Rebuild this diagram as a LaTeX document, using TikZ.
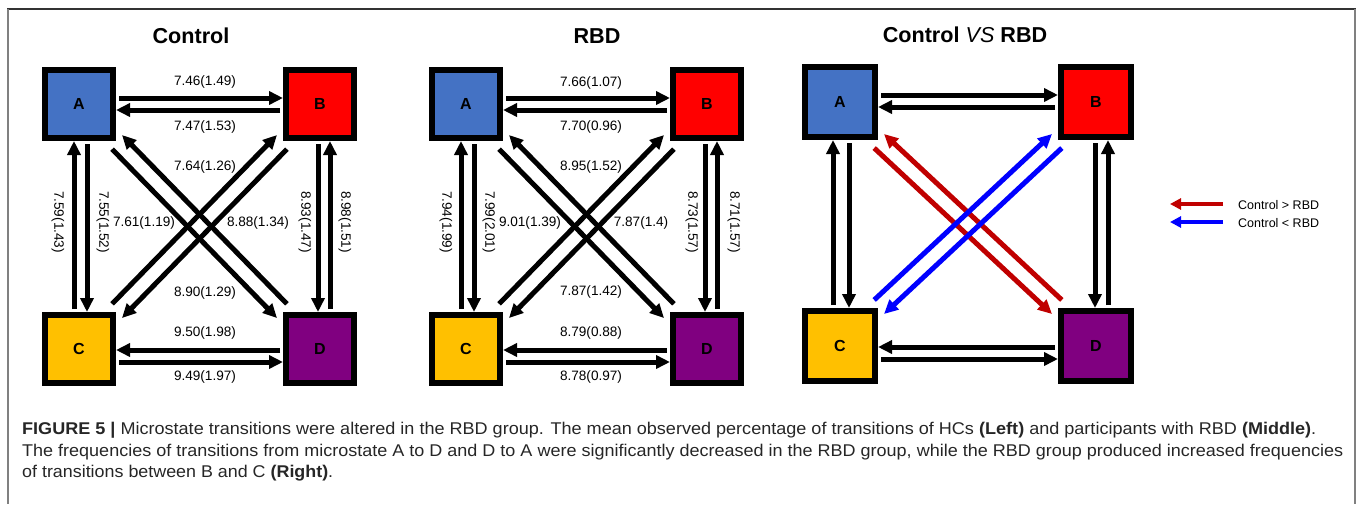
\documentclass[tikz,border=0pt]{standalone}
\usepackage{fontspec}
\setmainfont{Liberation Sans}
\usepackage{graphicx}
\usetikzlibrary{arrows.meta}
\definecolor{stateA}{HTML}{4472C4}
\definecolor{stateB}{HTML}{FF0000}
\definecolor{stateC}{HTML}{FFC000}
\definecolor{stateD}{HTML}{800080}
\definecolor{lessred}{HTML}{C00000}
\definecolor{moreblue}{HTML}{0000FF}
\tikzstyle{statebox}=[rectangle, draw=black, line width=6pt,
                      minimum size=68pt, inner sep=0pt,
                      font=\fontsize{16}{16}\selectfont\bfseries]
\tikzstyle{transarrow}=[line width=5pt, -{Triangle[length=14pt,width=13pt]},
                        shorten <=3pt]

\begin{document}
\begin{tikzpicture}[x=1pt,y=-1pt]
  \tikzstyle{problabel}=[font=\fontsize{13.6}{14}\selectfont, inner sep=0pt]
  \tikzstyle{paneltitle}=[font=\fontsize{21.6}{22}\selectfont\bfseries, anchor=base]
  \tikzstyle{captionline}=[font=\fontsize{17}{21}\selectfont, text=black!85, anchor=base west, inner sep=0pt]
  \useasboundingbox (0,0) rectangle (1357,504);
  % frame
  \draw[black!80, line width=1.5pt] (7,9) -- (1356,9);
  \draw[black!50, line width=1.5pt] (8,9) -- (8,504);
  \draw[black!50, line width=1.5pt] (1355,9) -- (1355,504);
  % Control
  \node[paneltitle] (ctitle) at (191,43) {Control};
  \node[statebox, fill=stateA] (cA) at (79,104) {A};
  \node[statebox, fill=stateB] (cB) at (320,104) {B};
  \node[statebox, fill=stateC] (cC) at (79,349) {C};
  \node[statebox, fill=stateD] (cD) at (320,349) {D};
  \draw[transarrow] ([yshift=6pt]cA.east) -- ([yshift=6pt]cB.west);
  \draw[transarrow] ([yshift=-6pt]cB.west) -- ([yshift=-6pt]cA.east);
  \draw[transarrow] ([xshift=-5pt]cC.north) -- ([xshift=-5pt]cA.south);
  \draw[transarrow] ([xshift=8pt]cA.south) -- ([xshift=8pt]cC.north);
  \draw[transarrow] ([xshift=-2pt]cB.south) -- ([xshift=-2pt]cD.north);
  \draw[transarrow] ([xshift=10pt]cD.north) -- ([xshift=10pt]cB.south);
  \draw[transarrow] ([yshift=-1pt]cD.west) -- ([yshift=-1pt]cC.east);
  \draw[transarrow] ([yshift=-13pt]cC.east) -- ([yshift=-13pt]cD.west);
  \draw[transarrow] ([xshift=-6pt,yshift=-6pt]cA.south east) -- ([xshift=-6pt,yshift=-6pt]cD.north west);
  \draw[transarrow] ([xshift=6pt,yshift=6pt]cD.north west) -- ([xshift=6pt,yshift=6pt]cA.south east);
  \draw[transarrow] ([xshift=-6pt,yshift=6pt]cC.north east) -- ([xshift=-6pt,yshift=6pt]cB.south west);
  \draw[transarrow] ([xshift=6pt,yshift=-6pt]cB.south west) -- ([xshift=6pt,yshift=-6pt]cC.north east);
  \node[problabel] (cablabel) at (205,82) {7.46(1.49)};
  \node[problabel] (cbalabel) at (205,127) {7.47(1.53)};
  \node[problabel] (ccblabel) at (205,167) {7.64(1.26)};
  \node[problabel] (cdalabel) at (144,223) {7.61(1.19)};
  \node[problabel] (cadlabel) at (258,223) {8.88(1.34)};
  \node[problabel] (cbclabel) at (205,293) {8.90(1.29)};
  \node[problabel] (cdclabel) at (205,333) {9.50(1.98)};
  \node[problabel] (ccdlabel) at (205,377) {9.49(1.97)};
  \node[problabel, rotate=-90] (ccalabel) at (58,222) {7.59(1.43)};
  \node[problabel, rotate=-90] (caclabel) at (103,222) {7.55(1.52)};
  \node[problabel, rotate=-90] (cbdlabel) at (305,222) {8.93(1.47)};
  \node[problabel, rotate=-90] (cdblabel) at (345,222) {8.98(1.51)};
  % RBD
  \node[paneltitle] (rtitle) at (597,43) {RBD};
  \node[statebox, fill=stateA] (rA) at (466,104) {A};
  \node[statebox, fill=stateB] (rB) at (707,104) {B};
  \node[statebox, fill=stateC] (rC) at (466,349) {C};
  \node[statebox, fill=stateD] (rD) at (707,349) {D};
  \draw[transarrow] ([yshift=6pt]rA.east) -- ([yshift=6pt]rB.west);
  \draw[transarrow] ([yshift=-6pt]rB.west) -- ([yshift=-6pt]rA.east);
  \draw[transarrow] ([xshift=-5pt]rC.north) -- ([xshift=-5pt]rA.south);
  \draw[transarrow] ([xshift=8pt]rA.south) -- ([xshift=8pt]rC.north);
  \draw[transarrow] ([xshift=-2pt]rB.south) -- ([xshift=-2pt]rD.north);
  \draw[transarrow] ([xshift=10pt]rD.north) -- ([xshift=10pt]rB.south);
  \draw[transarrow] ([yshift=-1pt]rD.west) -- ([yshift=-1pt]rC.east);
  \draw[transarrow] ([yshift=-13pt]rC.east) -- ([yshift=-13pt]rD.west);
  \draw[transarrow] ([xshift=-6pt,yshift=-6pt]rA.south east) -- ([xshift=-6pt,yshift=-6pt]rD.north west);
  \draw[transarrow] ([xshift=6pt,yshift=6pt]rD.north west) -- ([xshift=6pt,yshift=6pt]rA.south east);
  \draw[transarrow] ([xshift=-6pt,yshift=6pt]rC.north east) -- ([xshift=-6pt,yshift=6pt]rB.south west);
  \draw[transarrow] ([xshift=6pt,yshift=-6pt]rB.south west) -- ([xshift=6pt,yshift=-6pt]rC.north east);
  \node[problabel] (rablabel) at (591,83) {7.66(1.07)};
  \node[problabel] (rbalabel) at (591,127) {7.70(0.96)};
  \node[problabel] (rcblabel) at (591,167) {8.95(1.52)};
  \node[problabel] (rdalabel) at (530,223) {9.01(1.39)};
  \node[problabel] (radlabel) at (641,223) {7.87(1.4)};
  \node[problabel] (rbclabel) at (591,292) {7.87(1.42)};
  \node[problabel] (rdclabel) at (591,333) {8.79(0.88)};
  \node[problabel] (rcdlabel) at (591,377) {8.78(0.97)};
  \node[problabel, rotate=-90] (rcalabel) at (446,222) {7.94(1.99)};
  \node[problabel, rotate=-90] (raclabel) at (489,222) {7.99(2.01)};
  \node[problabel, rotate=-90] (rbdlabel) at (692,222) {8.73(1.57)};
  \node[problabel, rotate=-90] (rdblabel) at (734,222) {8.71(1.57)};
  % Control VS RBD
  \node[paneltitle] (vtitle) at (965,42) {Control \textmd{\itshape VS} RBD};
  \node[statebox, minimum size=70pt, fill=stateA] (vA) at (840,102) {A};
  \node[statebox, minimum size=70pt, fill=stateB] (vB) at (1096,102) {B};
  \node[statebox, minimum size=70pt, fill=stateC] (vC) at (840,346) {C};
  \node[statebox, minimum size=70pt, fill=stateD] (vD) at (1096,346) {D};
  \draw[transarrow] ([yshift=7pt]vA.east) -- ([yshift=7pt]vB.west);
  \draw[transarrow] ([yshift=-5pt]vB.west) -- ([yshift=-5pt]vA.east);
  \draw[transarrow] ([xshift=-7pt]vC.north) -- ([xshift=-7pt]vA.south);
  \draw[transarrow] ([xshift=9pt]vA.south) -- ([xshift=9pt]vC.north);
  \draw[transarrow] ([xshift=-1pt]vB.south) -- ([xshift=-1pt]vD.north);
  \draw[transarrow] ([xshift=12pt]vD.north) -- ([xshift=12pt]vB.south);
  \draw[transarrow] ([yshift=-1pt]vD.west) -- ([yshift=-1pt]vC.east);
  \draw[transarrow] ([yshift=-13pt]vC.east) -- ([yshift=-13pt]vD.west);
  \draw[transarrow, lessred] ([xshift=-6pt,yshift=-6pt]vA.south east) -- ([xshift=-6pt,yshift=-6pt]vD.north west);
  \draw[transarrow, lessred] ([xshift=6pt,yshift=6pt]vD.north west) -- ([xshift=6pt,yshift=6pt]vA.south east);
  \draw[transarrow, moreblue] ([xshift=-6pt,yshift=6pt]vC.north east) -- ([xshift=-6pt,yshift=6pt]vB.south west);
  \draw[transarrow, moreblue] ([xshift=6pt,yshift=-6pt]vB.south west) -- ([xshift=6pt,yshift=-6pt]vC.north east);
  % legend
  \node[font=\fontsize{12.5}{13}\selectfont, anchor=west, inner sep=0pt] (legmore) at (1238,205) {Control > RBD};
  \node[font=\fontsize{12.5}{13}\selectfont, anchor=west, inner sep=0pt] (legless) at (1238,223) {Control < RBD};
  \coordinate (legmoretip) at (1170,204);
  \coordinate (leglesstip) at (1170,222);
  \draw[lessred, line width=4pt, -{Triangle[length=11pt,width=11pt]}] ([xshift=-15pt,yshift=1pt]legmore.west) -- (legmoretip);
  \draw[moreblue, line width=4pt, -{Triangle[length=11pt,width=11pt]}] ([xshift=-15pt,yshift=1pt]legless.west) -- (leglesstip);
  % caption
  \node[captionline] (capone) at (22,434) {\resizebox{1294pt}{\height}{\textbf{FIGURE 5 |} Microstate transitions were altered in the RBD group. The mean observed percentage of transitions of HCs \textbf{(Left)} and participants with RBD \textbf{(Middle)}.}};
  \node[captionline] (captwo) at (22,456) {\resizebox{1321pt}{\height}{The frequencies of transitions from microstate A to D and D to A were significantly decreased in the RBD group, while the RBD group produced increased frequencies}};
  \node[captionline] (capthree) at (22,477) {\resizebox{311pt}{\height}{of transitions between B and C \textbf{(Right)}.}};
\end{tikzpicture}
\end{document}
